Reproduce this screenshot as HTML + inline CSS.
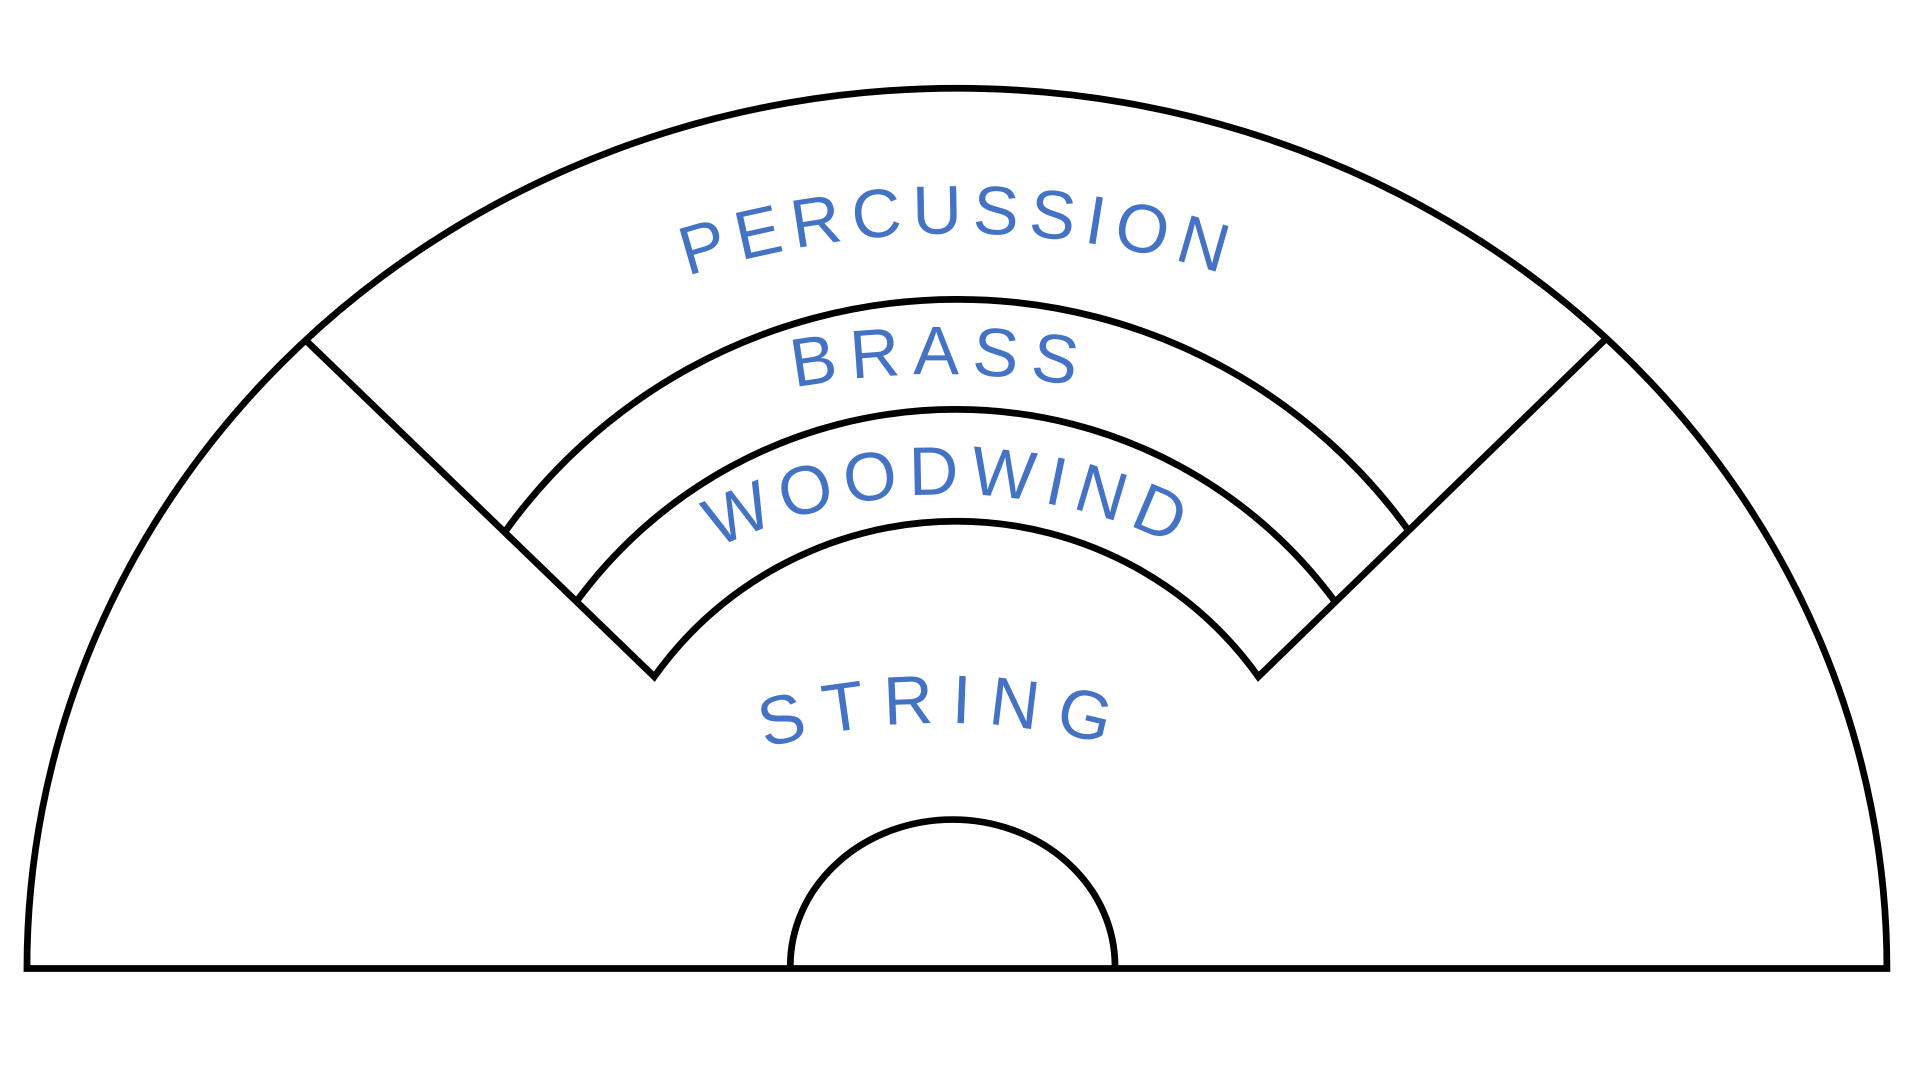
<!DOCTYPE html>
<html><head><meta charset="utf-8"><style>
html,body{margin:0;padding:0;background:#fff;}
svg{display:block;}
text{font-family:"Liberation Sans",sans-serif;fill:#4472C4;font-size:56px;}
</style></head><body>
<svg width="1920" height="1080" viewBox="0 0 1567 881" preserveAspectRatio="none" xmlns="http://www.w3.org/2000/svg">
<defs>
<path id="p1" d="M 520 240 A 720 720 0 0 1 1045 240"/>
<path id="p2" d="M 590 330 A 650 650 0 0 1 945 330"/>
<path id="p3" d="M 545 470 A 430 430 0 0 1 1005 470"/>
<path id="p4" d="M 610 615 A 520 520 0 0 1 930 615"/>
</defs>
<g fill="none" stroke="#000" stroke-width="5.5" stroke-linejoin="miter">
<path d="M 22 790 A 759 718 0 0 1 1540 790 Z"/>
<path d="M 251 279 L 534 552 A 303 303 0 0 1 1027 552 L 1310 277"/>
<path d="M 412 434 A 454 454 0 0 1 1149 432"/>
<path d="M 471 490 A 384 384 0 0 1 1089 490"/>
<path d="M 645 788 A 132 119 0 0 1 910 788"/>
</g>
<text letter-spacing="8"><textPath href="#p1" startOffset="50%" text-anchor="middle">PERCUSSION</textPath></text>
<text letter-spacing="10"><textPath href="#p2" startOffset="50%" text-anchor="middle">BRASS</textPath></text>
<text letter-spacing="8"><textPath href="#p3" startOffset="50%" text-anchor="middle">WOODWIND</textPath></text>
<text letter-spacing="14"><textPath href="#p4" startOffset="50%" text-anchor="middle">STRING</textPath></text>
</svg>
</body></html>
